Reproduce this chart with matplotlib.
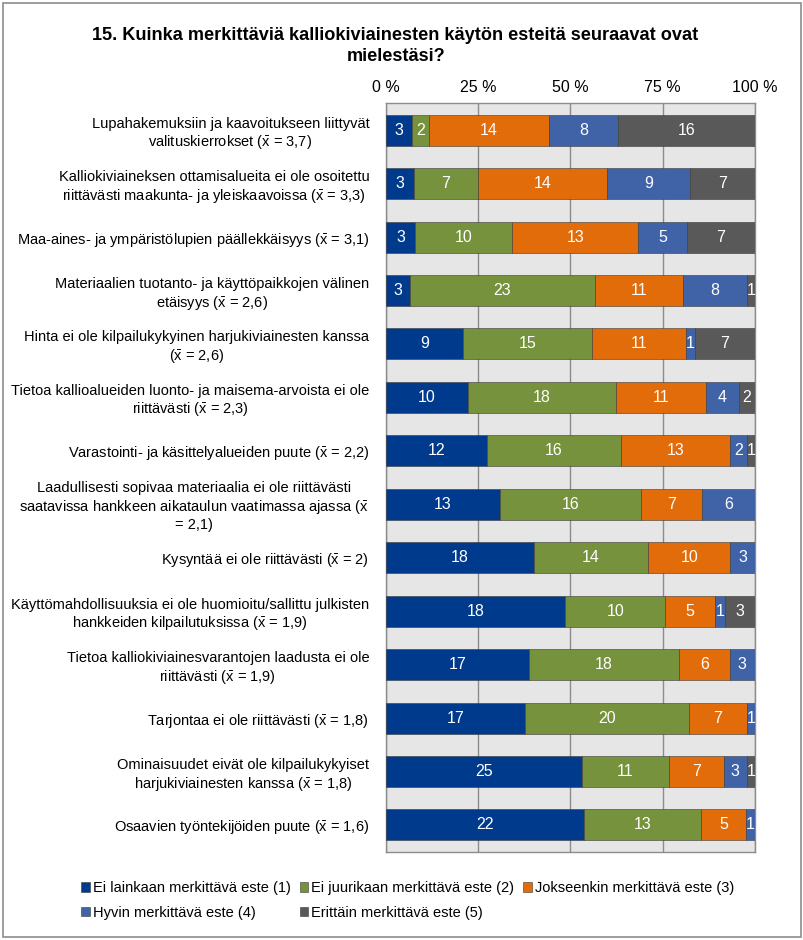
import matplotlib
matplotlib.use('Agg')
import matplotlib.pyplot as plt
import numpy as np
from matplotlib.patches import Rectangle

plt.rcParams['font.family'] = ['Liberation Sans', 'DejaVu Sans']
plt.rcParams['mathtext.fontset'] = 'custom'
plt.rcParams['mathtext.rm'] = 'Liberation Sans'
plt.rcParams['mathtext.it'] = 'Liberation Sans'

title = '15. Kuinka merkittäviä kalliokiviainesten käytön esteitä seuraavat ovat\nmielestäsi?'

# x̄ drawn with mathtext so the macron sits over the x
XB = r'$\bar{\mathrm{x}}$'

categories = [
    f'Lupahakemuksiin ja kaavoitukseen liittyvät\nvalituskierrokset ({XB} = 3,7)',
    f'Kalliokiviaineksen ottamisalueita ei ole osoitettu\nriittävästi maakunta- ja yleiskaavoissa ({XB} = 3,3)',
    f'Maa-aines- ja ympäristölupien päällekkäisyys ({XB} = 3,1)',
    f'Materiaalien tuotanto- ja käyttöpaikkojen välinen\netäisyys ({XB} = 2,6)',
    f'Hinta ei ole kilpailukykyinen harjukiviainesten kanssa\n({XB} = 2,6)',
    f'Tietoa kallioalueiden luonto- ja maisema-arvoista ei ole\nriittävästi ({XB} = 2,3)',
    f'Varastointi- ja käsittelyalueiden puute ({XB} = 2,2)',
    f'Laadullisesti sopivaa materiaalia ei ole riittävästi\nsaatavissa hankkeen aikataulun vaatimassa ajassa ({XB}\n= 2,1)',
    f'Kysyntää ei ole riittävästi ({XB} = 2)',
    f'Käyttömahdollisuuksia ei ole huomioitu/sallittu julkisten\nhankkeiden kilpailutuksissa ({XB} = 1,9)',
    f'Tietoa kalliokiviainesvarantojen laadusta ei ole\nriittävästi ({XB} = 1,9)',
    f'Tarjontaa ei ole riittävästi ({XB} = 1,8)',
    f'Ominaisuudet eivät ole kilpailukykyiset\nharjukiviainesten kanssa ({XB} = 1,8)',
    f'Osaavien työntekijöiden puute ({XB} = 1,6)',
]

series_names = [
    'Ei lainkaan merkittävä este (1)',
    'Ei juurikaan merkittävä este (2)',
    'Jokseenkin merkittävä este (3)',
    'Hyvin merkittävä este (4)',
    'Erittäin merkittävä este (5)',
]

s1 = [3, 3, 3, 3, 9, 10, 12, 13, 18, 18, 17, 17, 25, 22]
s2 = [2, 7, 10, 23, 15, 18, 16, 16, 14, 10, 18, 20, 11, 13]
s3 = [14, 14, 13, 11, 11, 11, 13, 7, 10, 5, 6, 7, 7, 5]
s4 = [8, 9, 5, 8, 1, 4, 2, 6, 3, 1, 3, 1, 3, 1]
s5 = [16, 7, 7, 1, 7, 2, 1, 0, 0, 3, 0, 0, 1, 0]

colors = ['#003A8C', '#76923C', '#E26B0A', '#4063A8', '#595959']

data = np.array([s1, s2, s3, s4, s5], dtype=float)
totals = data.sum(axis=0)
pct = data / totals * 100

fig = plt.figure(figsize=(8.04, 9.40), dpi=100)
ax = fig.add_axes([0.480, 0.094, 0.459, 0.796])
ax.set_facecolor('#E6E6E6')

y = np.arange(len(categories))
left = np.zeros(len(categories))
handles = []
for i in range(5):
    bars = ax.barh(y, pct[i], left=left, height=0.58, color=colors[i],
                   edgecolor='#3A3A3A', linewidth=0.4, label=series_names[i], zorder=3)
    handles.append(bars)
    for j in range(len(categories)):
        if data[i, j] > 0:
            ax.text(left[j] + pct[i, j] / 2, y[j], f'{int(data[i, j])}',
                    ha='center', va='center', color='white', fontsize=11.5, zorder=4)
    left += pct[i]

ax.set_xlim(0, 100)
ax.set_ylim(len(categories) - 0.5, -0.5)
ax.set_xticks([0, 25, 50, 75, 100])
ax.set_xticklabels(['0 %', '25 %', '50 %', '75 %', '100 %'], fontsize=11.5)
ax.xaxis.tick_top()
ax.tick_params(axis='x', length=0, pad=6)
ax.set_yticks(y)
ax.set_yticklabels(categories, fontsize=10.5, multialignment='center')
ax.tick_params(axis='y', length=0, pad=12)
ax.grid(axis='x', color='#8C8C8C', linewidth=1.0, zorder=1)
for sp in ax.spines.values():
    sp.set_color('#8C8C8C')
    sp.set_linewidth(1.0)

fig.text(0.492, 0.951, title, ha='center', va='center', fontsize=13.1,
         fontweight='bold', linespacing=1.35)

order = [0, 3, 1, 4, 2]
fig.legend([handles[k] for k in order], [series_names[k] for k in order],
           loc='center', bbox_to_anchor=(0.507, 0.042), ncol=3, frameon=False,
           fontsize=10.5, handlelength=0.6, handleheight=0.6, handletextpad=0.2,
           columnspacing=0.6, labelspacing=0.75)

fig.patches.append(Rectangle((0.004, 0.003), 0.992, 0.994, transform=fig.transFigure,
                             fill=False, edgecolor='#8C8C8C', linewidth=1.2))

fig.savefig('out.png', dpi=100)
